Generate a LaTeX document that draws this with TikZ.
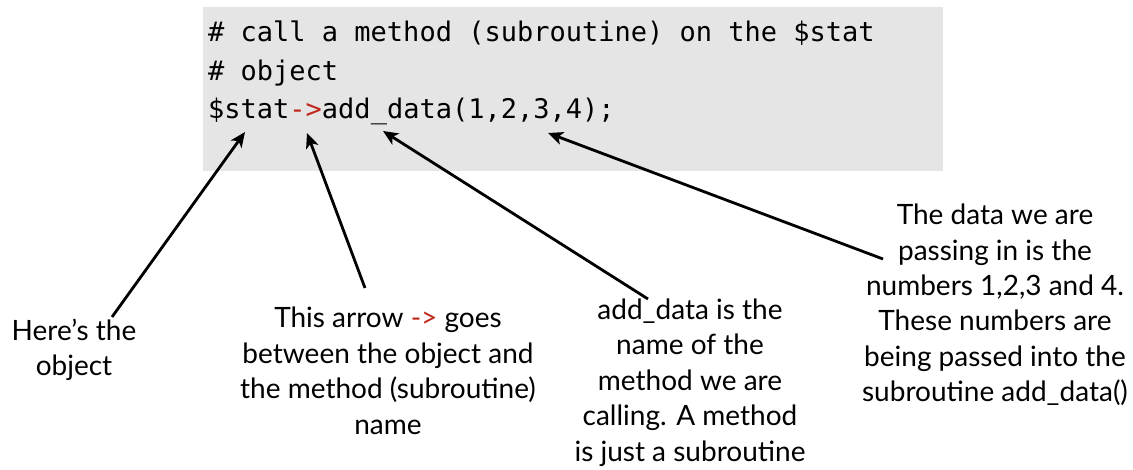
\documentclass[tikz,border=0pt]{standalone}
\usepackage{fontspec}
\setmainfont{Lato}
\newfontfamily\codefont{DejaVu Sans Mono}
\usetikzlibrary{arrows.meta}
\definecolor{codebg}{RGB}{229,229,229}
\definecolor{codered}{RGB}{192,38,28}
\begin{document}
\begin{tikzpicture}[x=1pt,y=-1pt,
  pointer/.style={line width=2.8pt,-{Stealth[length=15pt,width=13pt,inset=4pt]}},
  lbl/.style={align=center,inner sep=0pt,anchor=base,font=\fontsize{28}{35.5}\selectfont},
  codetxt/.style={align=left,inner sep=0pt,anchor=base west,font=\codefont\fontsize{27}{38.5}\selectfont}]
\useasboundingbox (0,0) rectangle (1133,470);
\node[fill=codebg,anchor=north west,minimum width=740pt,minimum height=164pt,inner sep=0pt] (codebox) at (203,7) {};
% anchor=base of a multi-line node is the baseline of its last line
\node[codetxt] (code) at (208,119) {\#~call a method (subroutine) on the \$stat\\\#~object\\\$stat{\color{codered}-{}>}add\_data(1,2,3,4);};
\coordinate (tipA) at (245,132);
\coordinate (tipB) at (307,133);
\coordinate (tipC) at (383,131);
\coordinate (tipD) at (548,133);
\coordinate (tailA) at (112,317);
\coordinate (tailB) at (365,288);
\coordinate (tailC) at (648,299);
\coordinate (tailD) at (883,259);
\node[lbl] (lblA) at (74,376) {Here’s the\\object};
\node[lbl] (lblB) at (388,434) {This arrow {\color{codered}-{}>} goes\\between the object and\\the method (subroutine)\\name};
\node[lbl] (lblC) at (690,461) {add\_data is the\\name of the\\method we are\\calling. A method\\is just a subroutine};
\node[lbl] (lblD) at (995,402) {The data we are\\passing in is the\\numbers 1,2,3 and 4.\\These numbers are\\being passed into the\\subroutine add\_data()};
\draw[pointer] (tailA) -- (tipA);
\draw[pointer] (tailB) -- (tipB);
\draw[pointer] (tailC) -- (tipC);
\draw[pointer] (tailD) -- (tipD);
\end{tikzpicture}
\end{document}
